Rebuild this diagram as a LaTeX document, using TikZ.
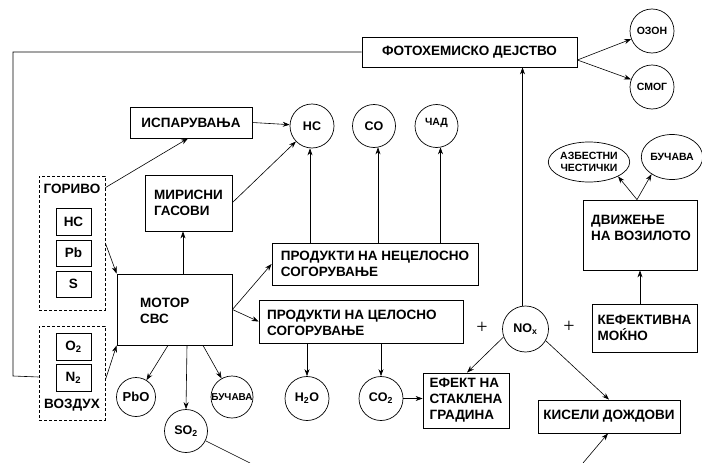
\documentclass[tikz,border=0pt]{standalone}
\usepackage{fontspec}
\setmainfont{Liberation Sans}
\newfontfamily\serifplus{Liberation Serif}
\usetikzlibrary{arrows.meta,calc,shapes.geometric}
\begin{document}
\begin{tikzpicture}[x=1pt,y=-1pt,
  basetxt/.style={font=\bfseries\fontsize{13.5}{16}\selectfont, inner sep=0pt},
  box/.style={basetxt, draw, line width=0.8pt, align=left},
  dbox/.style={draw, line width=0.7pt, dash pattern=on 3pt off 2pt},
  circ/.style={basetxt, draw, circle, line width=0.7pt, font=\bfseries\fontsize{12.5}{14}\selectfont},
  sml/.style={font=\bfseries\fontsize{10.5}{11.5}\selectfont},
  ell/.style={draw, ellipse, line width=0.7pt, align=center, inner sep=0pt, font=\bfseries\fontsize{10.5}{11.5}\selectfont},
  arr/.style={-{Stealth[length=7pt,width=5pt]}, line width=0.6pt},
  ln/.style={line width=0.6pt},
  plussign/.style={font=\serifplus\fontsize{20}{20}\selectfont, inner sep=0pt},
]
\useasboundingbox (0,0) rectangle (702,463);

% top
\node[box, minimum width=215pt, minimum height=30pt] (foto) at (469.5,52) {ФОТОХЕМИСКО ДЕЈСТВО};
\node[circ, sml, minimum size=44pt] (ozon) at (652,31) {ОЗОН};
\node[circ, sml, minimum size=44pt] (smog) at (652,87) {СМОГ};

% fuel and air
\node[dbox, minimum width=66pt, minimum height=134pt] (gorivo) at (72,243) {};
\node[basetxt] (gorivotx) at (72,189) {ГОРИВО};
\node[box, minimum width=35pt, minimum height=27pt] (hcb) at (73.5,221.5) {HC};
\node[box, minimum width=35pt, minimum height=26pt] (pbb) at (73.5,253) {Pb};
\node[box, minimum width=35pt, minimum height=26pt] (sb) at (73.5,284) {S};
\node[dbox, minimum width=66pt, minimum height=94pt] (vozduh) at (72,373) {};
\node[basetxt] (vozduhtx) at (72,405) {ВОЗДУХ};
\node[box, minimum width=35pt, minimum height=27pt] (o2b) at (73.5,346.5) {O\textsubscript{2}};
\node[box, minimum width=35pt, minimum height=27pt] (n2b) at (73.5,377.5) {N\textsubscript{2}};

% engine
\node[box, minimum width=122pt, minimum height=31pt] (ispar) at (191,122.5) {ИСПАРУВАЊА};
\node[box, minimum width=87pt, minimum height=56pt] (miris) at (188.5,203) {МИРИСНИ\\ГАСОВИ};
\node[box, minimum width=115pt, minimum height=71pt] (motor) at (174.5,309.5) {};
\node[basetxt, align=left, anchor=west] (motortx) at (140,310.5) {МОТОР\\СВС};

% incomplete combustion
\node[circ, minimum size=44pt] (hc) at (312,126) {HC};
\node[circ, minimum size=43pt] (co) at (374,126) {CO};
\node[circ, minimum size=43pt] (chad) at (436.5,126) {};
\node[basetxt, sml] (chadtx) at (436.5,123) {ЧАД};
\node[box, minimum width=206pt, minimum height=42pt] (nec) at (375,264) {ПРОДУКТИ НА НЕЦЕЛОСНО\\СОГОРУВАЊЕ};

% complete combustion
\node[box, minimum width=204pt, minimum height=43pt] (cel) at (361,321.5) {};
\node[basetxt, align=left, anchor=west] (celtx) at (267,323) {ПРОДУКТИ НА ЦЕЛОСНО\\СОГОРУВАЊЕ};
\node[circ, minimum size=44pt] (h2o) at (307,398.5) {H\textsubscript{2}O};
\node[circ, minimum size=44pt] (co2) at (381,398.5) {CO\textsubscript{2}};
\node[box, minimum width=86pt, minimum height=55pt] (efekt) at (466,400.5) {ЕФЕКТ НА\\СТАКЛЕНА\\ГРАДИНА};

% engine outputs
\node[circ, font=\bfseries\fontsize{13}{14}\selectfont, minimum size=39pt] (pbo) at (136,397) {PbO};
\node[circ, minimum size=43pt] (so2) at (186,431) {SO\textsubscript{2}};
\node[circ, font=\bfseries\fontsize{10}{10}\selectfont, minimum size=42pt] (buc1) at (232,397) {БУЧАВА};

% NOx and right part
\node[plussign] (plus1) at (482,328) {+};
\node[circ, minimum size=46pt] (nox) at (525.5,329) {NO\textsubscript{x}};
\node[plussign] (plus2) at (569,327) {+};
\node[box, minimum width=105pt, minimum height=48pt] (kef) at (644.5,328) {КЕФЕКТИВНА\\МОЌНО};
\node[box, minimum width=142pt, minimum height=33pt] (kiseli) at (609,416.5) {КИСЕЛИ ДОЖДОВИ};
\node[box, minimum width=114pt, minimum height=70pt] (dviz) at (640,235) {};
\node[basetxt, align=left, anchor=west] (dviztx) at (591,228) {ДВИЖЕЊЕ\\НА ВОЗИЛОТО};
\node[ell, minimum width=66pt, minimum height=40pt] (azb) at (589,162) {АЗБЕСТНИ\\ЧЕСТИЧКИ};
\node[ell, minimum width=60pt, minimum height=45pt] (buc2) at (672,157) {БУЧАВА};

% helper coordinates
\coordinate (fe) at ($(foto.east)+(0,8)$);
\coordinate (lt) at (13,52);
\coordinate (lb) at (13,376);
\coordinate (nt) at ($(nox.north)+(-3,0)$);
\coordinate (mm) at ($(motor.north)+(8.5,0)$);
\coordinate (cot) at ($(co.south)+(4,-0.5)$);
\coordinate (chat) at ($(chad.south)+(4,-0.5)$);
\coordinate (hct) at ($(hc.south)+(-2,0)$);
\coordinate (dn) at ($(dviz.north)+(-3,0)$);
\coordinate (so2e) at (250,463);
\coordinate (kise) at (583,463);

% connectors
\draw[arr] (fe) -- (ozon);
\draw[arr] (fe) -- (smog);
\draw[ln] (foto.west) -- (lt) -- (lb) -- ($(vozduh.west)+(0,4)$);
\draw[arr] (nt) -- (nt |- foto.south);
\draw[arr] ($(gorivo.north east)+(0,12)$) -- ($(ispar.south)+(-3,0)$);
\draw[arr] (gorivo.east) -- (motor.north west);
\draw[arr] ($(vozduh.east)+(0,7)$) -- (motor.south west);
\draw[arr] (mm) -- (mm |- miris.south);
\draw[arr] (ispar.east) -- (hc);
\draw[arr] ($(miris.north east)+(0,28)$) -- (hc);
\draw[arr] (motor.east) -- (nec.west);
\draw[arr] (motor.east) -- (cel.west);
\draw[arr] (hct |- nec.north) -- (hct);
\draw[arr] (cot |- nec.north) -- (cot);
\draw[arr] (chat |- nec.north) -- (chat);
\draw[arr] (h2o |- cel.south) -- (h2o.north);
\draw[arr] (co2 |- cel.south) -- (co2.north);
\draw[arr] (co2.east) -- (co2.east -| efekt.west);
\draw[arr] ($(motor.south)+(-6.5,0)$) -- (pbo);
\draw[arr] ($(motor.south)+(12.5,0)$) -- (so2.north);
\draw[arr] ($(motor.south)+(28.5,0)$) -- (buc1);
\draw[ln] (so2) -- (so2e);
\draw[arr] (nox.200) -- ($(efekt.north)+(1,0)$);
\draw[arr] (nox.-30) -- (kiseli.north);
\draw[arr] (kise) -- ($(kiseli.south)+(-1,0)$);
\draw[arr] (dviz.south |- kef.north) -- (dviz.south);
\draw[arr] (dn) -- (azb.south east);
\draw[arr] (dn) -- (buc2.220);
\end{tikzpicture}
\end{document}
